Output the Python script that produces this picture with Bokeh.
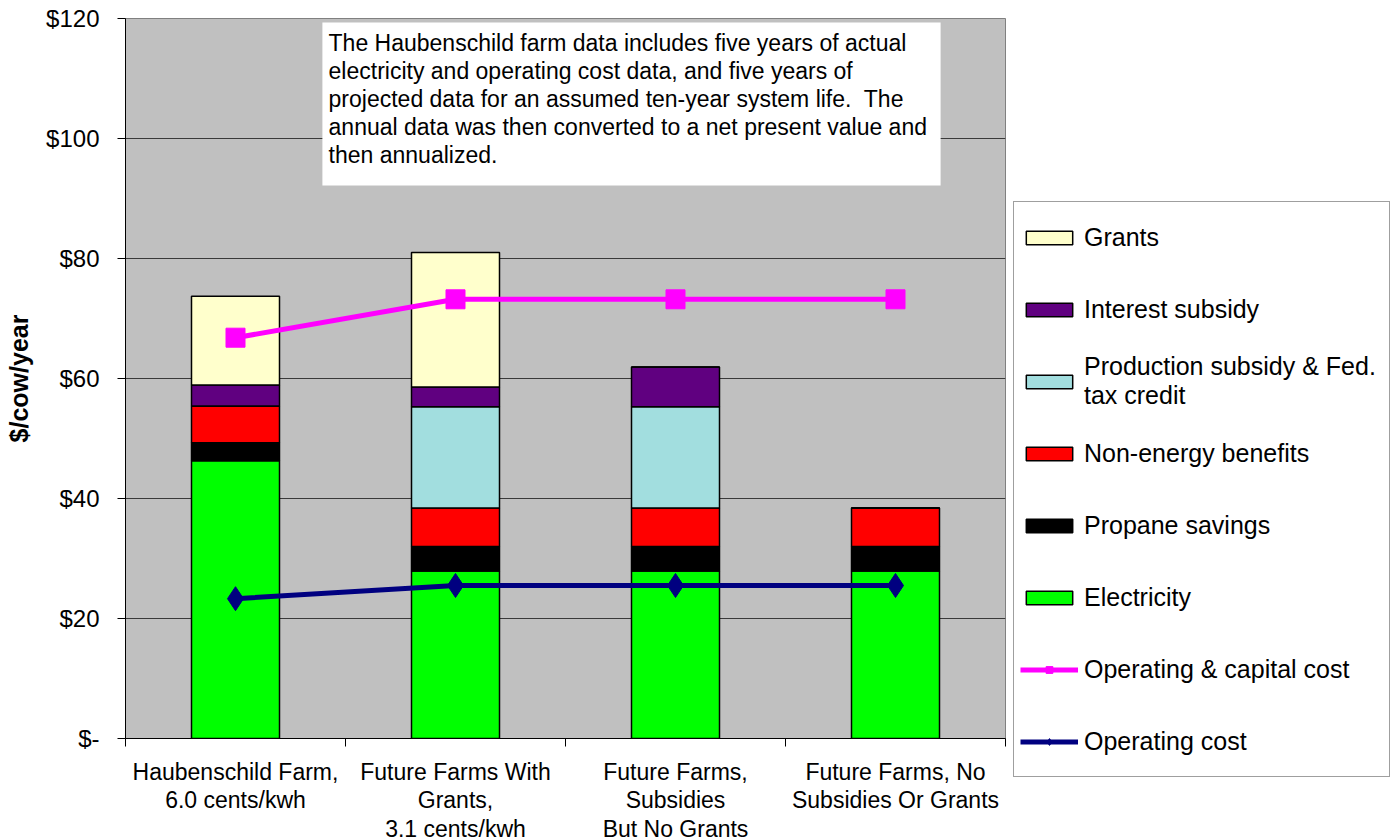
from bokeh.plotting import figure
from bokeh.models import (ColumnDataSource, FixedTicker, Legend, LegendItem,
                          BoxAnnotation, Label, Range1d)
from bokeh.embed import file_html
from bokeh.resources import INLINE

categories = ["Haubenschild Farm,\n6.0 cents/kwh",
              "Future Farms With\nGrants,\n3.1 cents/kwh",
              "Future Farms,\nSubsidies\nBut No Grants",
              "Future Farms, No\nSubsidies Or Grants"]
electricity = [46.3, 27.9, 27.9, 27.9]
propane = [3.0, 4.1, 4.1, 4.1]
non_energy = [6.1, 6.4, 6.4, 6.4]
production = [0.0, 16.9, 16.9, 0.0]
interest = [3.5, 3.3, 6.6, 0.0]
grants = [14.8, 22.4, 0.0, 0.0]
op_capital = [66.8, 73.2, 73.2, 73.2]
op_cost = [23.3, 25.5, 25.5, 25.5]

y_ticks = [0, 20, 40, 60, 80, 100, 120]
y_tick_labels = ["$-", "$20", "$40", "$60", "$80", "$100", "$120"]

note_lines = [
    "The Haubenschild farm data includes five years of actual",
    "electricity and operating cost data, and five years of",
    "projected data for an assumed ten-year system life.\u00a0 The",
    "annual data was then converted to a net present value and",
    "then annualized.",
]

FONT = "Liberation Sans"

xs = [i + 0.5 for i in range(len(categories))]
src = ColumnDataSource(dict(x=xs, electricity=electricity, propane=propane,
                            non_energy=non_energy, production=production,
                            interest=interest, grants=grants,
                            op_capital=op_capital, op_cost=op_cost))

p = figure(frame_width=880, frame_height=720, output_backend="svg",
           toolbar_location=None, x_range=Range1d(0, len(categories)),
           y_range=Range1d(0, 120), min_border_left=125, min_border_right=387,
           min_border_top=18, min_border_bottom=102)
p.background_fill_color = "#C0C0C0"
p.border_fill_color = "white"
p.outline_line_color = "#808080"

stack_names = ["electricity", "propane", "non_energy", "production", "interest", "grants"]
stack_colors = ["#00FF00", "#000000", "#FF0000", "#A2DEDF", "#600080", "#FFFFCC"]
bars = p.vbar_stack(stack_names, x="x", width=0.4, color=stack_colors,
                    line_color="black", line_width=1.5, source=src)

l1 = p.line("x", "op_capital", source=src, line_color="#FF00FF", line_width=5)
m1 = p.scatter("x", "op_capital", source=src, marker="square", size=19,
               color="#FF00FF")
l2 = p.line("x", "op_cost", source=src, line_color="#000080", line_width=5)
m2 = p.scatter("x", "op_cost", source=src, marker="diamond", size=24,
               color="#000080")

# axes
p.xaxis.ticker = FixedTicker(ticks=xs, minor_ticks=list(range(len(categories) + 1)))
p.xaxis.major_label_overrides = {x: c for x, c in zip(xs, categories)}
p.xaxis.major_tick_line_color = None
p.xaxis.minor_tick_out = 8
p.xaxis.minor_tick_in = 0
p.xaxis.minor_tick_line_color = "black"
p.xaxis.axis_line_color = "black"
p.xaxis.major_label_text_font = FONT
p.xaxis.major_label_text_font_size = "23px"
p.xaxis.major_label_text_color = "black"
p.xaxis.major_label_text_line_height = 1.1
p.xaxis.major_label_standoff = 12

p.yaxis.ticker = FixedTicker(ticks=y_ticks, minor_ticks=[])
p.yaxis.major_label_overrides = {t: l for t, l in zip(y_ticks, y_tick_labels)}
p.yaxis.major_tick_out = 8
p.yaxis.major_tick_in = 0
p.yaxis.axis_line_color = "black"
p.yaxis.major_label_text_font = FONT
p.yaxis.major_label_text_font_size = "24px"
p.yaxis.major_label_text_color = "black"
p.yaxis.major_label_standoff = 18
p.yaxis.axis_label = "$/cow/year"
p.yaxis.axis_label_text_font = FONT
p.yaxis.axis_label_text_font_size = "25px"
p.yaxis.axis_label_text_font_style = "bold"
p.yaxis.axis_label_text_color = "black"
p.yaxis.axis_label_standoff = 10

p.xgrid.grid_line_color = None
p.ygrid.ticker = FixedTicker(ticks=y_ticks)
p.ygrid.grid_line_color = "#3a3a3a"
p.ygrid.grid_line_width = 1

# note box
box = BoxAnnotation(left=0.895, right=3.705, bottom=92.17, top=119.33,
                    fill_color="white", fill_alpha=1.0, line_color=None)
p.add_layout(box)
for i, line in enumerate(note_lines):
    p.add_layout(Label(x=0.923, y=116.0 - i * 4.7, text=line, text_font=FONT,
                       text_font_size="23px", text_baseline="middle",
                       text_color="black"))

legend = Legend(items=[
    LegendItem(label="Grants", renderers=[bars[5]]),
    LegendItem(label="Interest subsidy", renderers=[bars[4]]),
    LegendItem(label="Production subsidy & Fed.\ntax credit", renderers=[bars[3]]),
    LegendItem(label="Non-energy benefits", renderers=[bars[2]]),
    LegendItem(label="Propane savings", renderers=[bars[1]]),
    LegendItem(label="Electricity", renderers=[bars[0]]),
    LegendItem(label="Operating & capital cost", renderers=[l1, m1]),
    LegendItem(label="Operating cost", renderers=[l2, m2]),
], location=(8, -39))
legend.margin = 0
legend.glyph_width = 58
legend.glyph_height = 17
legend.label_height = 58
legend.spacing = 14
legend.padding = 6
legend.label_standoff = 6
legend.label_width = 1388 - 1013 - 12 - 58 - 6
legend.label_text_font = FONT
legend.label_text_font_size = "25px"
legend.label_text_color = "black"
legend.border_line_color = "#404040"
legend.border_line_width = 1
legend.background_fill_color = "white"
legend.background_fill_alpha = 1.0
p.add_layout(legend, "right")

open("out.html", "w").write(file_html(p, INLINE))
